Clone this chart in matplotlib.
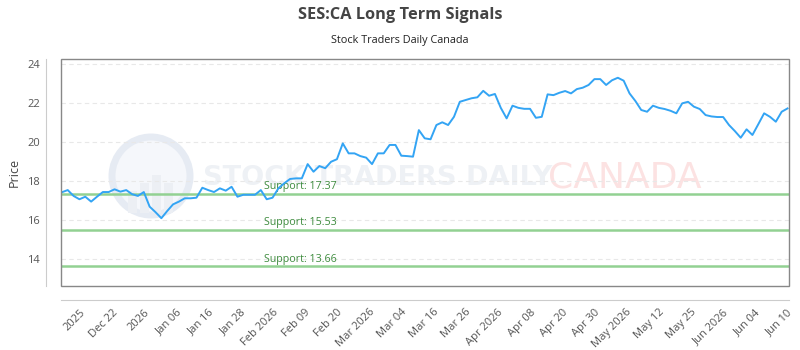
import numpy as np
import matplotlib
matplotlib.use("Agg")
import matplotlib.pyplot as plt
from matplotlib.patches import Ellipse, Rectangle

plt.rcParams['font.family'] = ['Open Sans', 'DejaVu Sans']

# ---- data ----
prices = [
    17.44, 17.55, 17.25, 17.08, 17.21, 16.96, 17.21, 17.45, 17.45, 17.59,
    17.47, 17.55, 17.34, 17.25, 17.45, 16.70, 16.42, 16.11, 16.48, 16.82,
    16.96, 17.13, 17.13, 17.16, 17.67,
    17.55, 17.45, 17.64, 17.52, 17.72, 17.21, 17.31, 17.31, 17.31, 17.55,
    17.08, 17.16, 17.64, 17.90, 18.12, 18.15, 18.15, 18.88, 18.49, 18.78,
    18.67, 19.00, 19.13, 19.94, 19.43,
    19.43, 19.29, 19.21, 18.88, 19.43, 19.43, 19.86, 19.86, 19.31, 19.29,
    19.26, 20.62, 20.20, 20.15, 20.88, 21.02, 20.88, 21.30, 22.07, 22.16,
    22.25, 22.30, 22.63, 22.38, 22.47,
    21.76, 21.22, 21.87, 21.76, 21.71, 21.71, 21.25, 21.30, 22.45, 22.41,
    22.53, 22.62, 22.50, 22.72, 22.79, 22.93, 23.23, 23.23, 22.93, 23.17,
    23.30, 23.15, 22.50, 22.11,
    21.65, 21.56, 21.87, 21.76, 21.70, 21.61, 21.48, 21.99, 22.07, 21.82,
    21.70, 21.39, 21.32, 21.29, 21.29, 20.88, 20.57, 20.23, 20.66, 20.37,
    20.92, 21.48, 21.30, 21.05, 21.56, 21.73,
]
tick_labels = ["2025", "Dec 22", "2026", "Jan 06", "Jan 16", "Jan 28", "Feb 2026",
               "Feb 09", "Feb 20", "Mar 2026", "Mar 04", "Mar 16", "Mar 26",
               "Apr 2026", "Apr 08", "Apr 20", "Apr 30", "May 2026", "May 12",
               "May 25", "Jun 2026", "Jun 04", "Jun 10"]
support_levels = [17.37, 15.53, 13.66]
yticks = [14, 16, 18, 20, 22, 24]

title = "SES:CA Long Term Signals"
subtitle = "Stock Traders Daily Canada"

# ---- figure ----
W, H = 800, 350
fig = plt.figure(figsize=(8, 3.5), dpi=100)
ax = fig.add_axes([61 / W, 64 / H, 728 / W, 227 / H])

# spines first (setting their position resets ticks)
for s in ['top', 'right']:
    ax.spines[s].set_visible(False)
ax.spines['left'].set_position(('outward', 11))
ax.spines['bottom'].set_position(('outward', 10))
ax.spines['left'].set_color('#cccccc')
ax.spines['bottom'].set_color('#cccccc')

x = np.arange(len(prices))
n = len(prices)

# watermark
ax.add_patch(Ellipse(((151 - 61) / 728, (286 - 176) / 227), 78 / 728, 78 / 227,
                     transform=ax.transAxes, fill=True, fc='#f5f7fb', ec='#e6ebf3',
                     lw=5, zorder=0))
for bx, bh in [(128, 22), (140, 30), (152, 38), (164, 30)]:
    ax.add_patch(Rectangle(((bx - 61) / 728, (286 - 213) / 227), 9 / 728, bh / 227,
                           transform=ax.transAxes, fc='#eceff4', ec='none', zorder=0))
ax.text((203 - 61) / 728, (286 - 178) / 227, "STOCK TRADERS DAILY",
        transform=ax.transAxes, fontsize=19.5, color='#eef1f5', va='center', ha='left',
        family=['DejaVu Sans'], fontweight='bold', zorder=0)
ax.text((548 - 61) / 728, (286 - 178) / 227, "CANADA",
        transform=ax.transAxes, fontsize=26, color='#fce2e2', va='center', ha='left',
        family=['DejaVu Sans'], zorder=0)

# grid
for yv in yticks:
    ax.axhline(yv, color='#e8e8e8', lw=0.8, ls=(0, (4, 3)), zorder=1)

# support lines
for lv in support_levels:
    ax.axhline(lv, color='#92d192', lw=1.8, zorder=2)
    ax.text(34.6, lv + 0.08, f"Support: {lv:.2f}", color='#3d8b3d', fontsize=7.7,
            va='bottom', ha='left', zorder=3)

ax.plot(x, prices, color='#33a4f4', lw=1.4, zorder=4)

ax.set_xlim(-0.15, n - 1 + 0.25)
ax.set_ylim(12.64, 24.26)

ax.tick_params(axis='both', length=0, colors='#555555', labelsize=8)
ax.tick_params(axis='y', pad=4)
ax.tick_params(axis='x', pad=5, labelrotation=45)

ax.set_yticks(yticks)
ax.set_yticklabels([str(v) for v in yticks])
tick_pos = np.linspace(3.1, 123.9, len(tick_labels))
ax.set_xticks(tick_pos)
ax.set_xticklabels(tick_labels, rotation=45, ha='right', va='top',
                   rotation_mode='anchor')

ax.add_patch(Rectangle((0, 0), 1, 1, transform=ax.transAxes, fill=False,
                       ec='#888888', lw=1, clip_on=False, zorder=5))

ax.set_ylabel("Price", fontsize=9, color='#444444', labelpad=5)

fig.text(0.5, 1 - 15 / H, title, ha='center', va='center', fontsize=11.8,
         fontweight='bold', color='#444444')
fig.text(0.5, 1 - 40 / H, subtitle, ha='center', va='center', fontsize=7.8,
         color='#222222')

fig.savefig("out.png", dpi=100)
